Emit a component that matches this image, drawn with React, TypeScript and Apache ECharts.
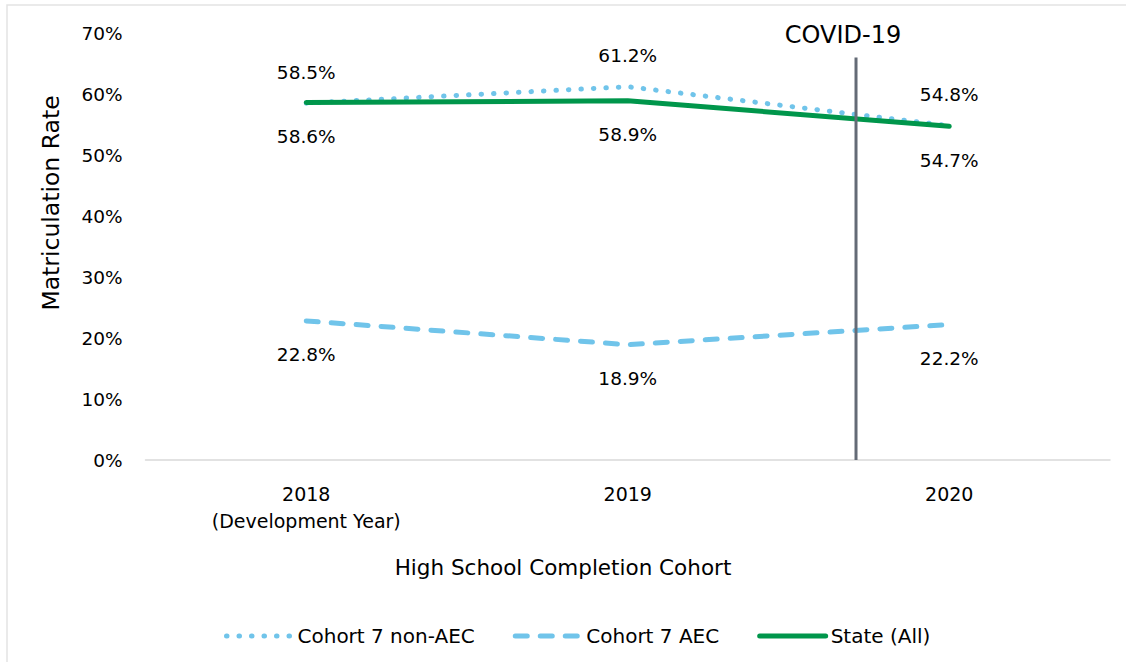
import React, { useEffect, useRef } from "react";
import * as echarts from "echarts";

const categories = ["2018\n(Development Year)", "2019", "2020"];
const nonAEC = [58.5, 61.2, 54.8];
const aec = [22.8, 18.9, 22.2];
const stateAll = [58.6, 58.9, 54.7];
const covidX = 1.71;
const covidTop = 66;
const yTicks = { min: 0, max: 70, interval: 10 };

const FONT = "DejaVu Sans";
const BLUE = "#70C4EA";
const GREEN = "#00964B";

export default function App() {
  const ref = useRef<HTMLDivElement>(null);
  useEffect(() => {
    document.body.style.margin = "0";
    const chart = echarts.init(ref.current!, null, { renderer: "svg" });
    const fmt = (p: any) => Number(Array.isArray(p.value) ? p.value[1] : p.value).toFixed(1) + "%";
    const labelBase = { show: true, fontFamily: FONT, fontSize: 18.5, color: "#000", formatter: fmt };
    chart.setOption({
      animation: false,
      textStyle: { fontFamily: FONT },
      grid: { left: 145.5, right: 16, top: 33, bottom: 202, containLabel: false },
      xAxis: [
        {
          type: "category",
          data: categories,
          boundaryGap: true,
          axisLine: { show: true, lineStyle: { color: "#D9D9D9", width: 1.5 } },
          axisTick: { show: false },
          axisLabel: { fontFamily: FONT, fontSize: 19, color: "#000", margin: 20, lineHeight: 27 },
          splitLine: { show: false },
        },
        { type: "value", min: -0.5, max: 2.5, show: false },
      ],
      yAxis: {
        type: "value",
        min: yTicks.min,
        max: yTicks.max,
        interval: yTicks.interval,
        axisLine: { show: false },
        axisTick: { show: false },
        splitLine: { show: false },
        axisLabel: { formatter: "{value}%", fontFamily: FONT, fontSize: 18.5, color: "#000", margin: 23 },
      },
      legend: {
        data: ["Cohort 7 non-AEC", "Cohort 7 AEC", "State (All)"],
        left: 219,
        top: 621,
        itemWidth: 66,
        itemHeight: 14,
        itemGap: 38,
        itemStyle: { opacity: 0 },
        lineStyle: { width: 5, cap: "round" },
        textStyle: { fontFamily: FONT, fontSize: 20, color: "#000" },
      },
      graphic: [
        {
          type: "rect",
          shape: { x: 7, y: 5, width: 1300, height: 800 },
          style: { fill: "none", stroke: "#E3E3E3", lineWidth: 1.5 },
          silent: true,
        },
        {
          type: "text",
          x: 51,
          y: 203,
          rotation: Math.PI / 2,
          style: { text: "Matriculation Rate", fontFamily: FONT, fontSize: 23.5, fill: "#000", align: "center", verticalAlign: "middle" },
        },
        {
          type: "text",
          x: 563,
          y: 567,
          style: { text: "High School Completion Cohort", fontFamily: FONT, fontSize: 21.5, fill: "#000", align: "center", verticalAlign: "middle" },
        },
      ],
      series: [
        {
          name: "Cohort 7 non-AEC",
          type: "line",
          data: nonAEC,
          symbol: "circle",
          symbolSize: 0.01,
          lineStyle: { color: BLUE, width: 5, type: [0.5, 12], cap: "round" },
          itemStyle: { color: BLUE },
          label: { ...labelBase, position: "top", distance: 21.5 },
          z: 2,
        },
        {
          name: "Cohort 7 AEC",
          type: "line",
          data: aec,
          symbol: "circle",
          symbolSize: 0.01,
          lineStyle: { color: BLUE, width: 5, type: [12, 13], cap: "round" },
          itemStyle: { color: BLUE },
          label: { ...labelBase, position: "bottom", distance: 24.5 },
          z: 3,
        },
        {
          name: "State (All)",
          type: "line",
          data: stateAll,
          symbol: "circle",
          symbolSize: 0.01,
          lineStyle: { color: GREEN, width: 5, cap: "round" },
          itemStyle: { color: GREEN },
          label: { ...labelBase, position: "bottom", distance: 24.5 },
          z: 4,
        },
        {
          name: "COVID",
          type: "line",
          xAxisIndex: 1,
          yAxisIndex: 0,
          symbol: "circle",
          symbolSize: 0.01,
          lineStyle: { color: "#646B76", width: 3 },
          itemStyle: { color: "#646B76" },
          z: 5,
          data: [
            [covidX, 0],
            {
              value: [covidX, covidTop],
              label: {
                show: true,
                position: "top",
                distance: 10,
                offset: [-13, 0],
                formatter: "COVID-19",
                fontFamily: FONT,
                fontSize: 24,
                color: "#000",
              },
            },
          ],
        },
      ],
    });
    return () => chart.dispose();
  }, []);
  return <div ref={ref} style={{ width: 1126, height: 662 }} />;
}
